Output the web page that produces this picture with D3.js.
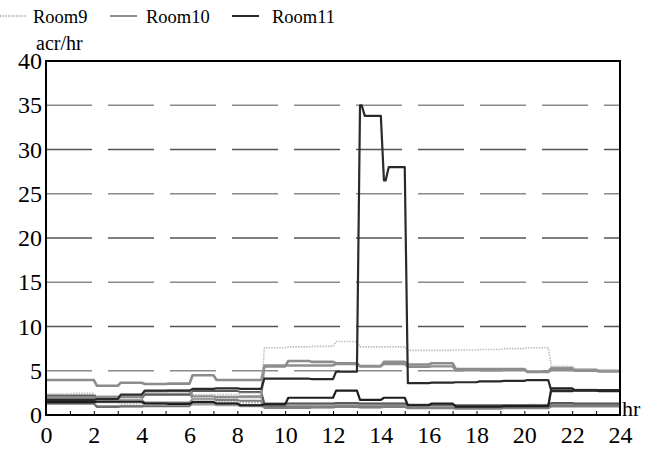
<!DOCTYPE html>
<html>
<head>
<meta charset="utf-8">
<script src="https://cdn.jsdelivr.net/npm/d3@7"></script>
<style>
  html, body { margin: 0; padding: 0; background: #fff; }
  svg { display: block; }
  text { font-family: "Liberation Serif", "Times New Roman", serif; fill: #000; }
</style>
</head>
<body>
<script>
// Step breakpoints (hours); each value holds from its breakpoint to the next one.
const times = [0,1,2,3,4,5,6,7,8,9,10,11,12,13,13.2,14,14.2,15,16,17,18,19,20,21,22,23];
const endHour = 24;

const room1  = [1.25,1.25,1.0,1.0,1.1,1.1,1.2,1.1,1.0,0.9,0.9,0.9,0.95,0.9,0.9,0.95,0.95,0.85,0.85,0.8,0.8,0.85,0.85,1.2,1.2,1.15];
const room2  = [1.35,1.35,0.9,0.95,1.0,1.0,1.5,1.3,1.1,1.0,1.0,1.0,1.05,1.0,1.0,1.1,1.1,0.9,0.95,0.8,0.8,0.85,0.8,1.1,1.1,1.1];
const room3  = [1.55,1.55,1.4,1.3,1.2,1.2,1.55,1.5,1.4,1.25,1.3,1.3,1.3,1.3,1.3,1.3,1.3,1.0,1.05,1.0,1.0,1.1,1.15,1.3,1.3,1.3];
const room4  = [1.7,1.7,1.75,1.7,1.4,1.4,1.8,1.7,1.6,0.8,0.8,0.85,0.9,0.85,0.85,0.9,0.9,0.75,0.75,0.7,0.7,0.75,0.75,0.95,0.95,0.95];
const room5  = [2.0,2.0,1.8,1.7,2.4,2.4,1.8,2.05,2.0,1.15,1.1,1.1,1.2,1.15,1.15,1.2,1.2,1.05,1.05,1.0,1.0,1.05,1.05,2.9,2.85,2.8];
const room6  = [2.2,2.2,2.05,2.0,2.3,2.3,2.7,2.7,2.6,1.3,1.3,1.3,1.35,1.3,1.3,1.3,1.3,1.15,1.15,1.1,1.1,1.1,1.1,1.35,1.3,1.3];
const room7  = [3.95,3.95,3.3,3.65,3.5,3.55,4.5,3.95,3.95,5.5,6.1,6.0,5.85,5.5,5.5,6.0,6.0,5.7,5.85,5.2,5.2,5.2,4.9,5.3,5.1,5.0];
const room8  = [1.45,1.45,1.5,1.5,1.3,1.25,1.45,1.3,1.1,1.2,1.95,1.95,2.75,1.7,1.7,1.95,1.95,1.1,1.3,0.95,0.95,1.0,1.0,3.0,2.75,2.7];
const room9  = [2.4,2.45,2.1,2.1,2.6,2.6,2.3,2.3,2.45,7.6,7.7,7.75,8.3,7.7,7.7,7.7,7.7,7.3,7.3,7.35,7.4,7.5,7.6,5.5,5.2,5.0];
const room10 = [1.9,1.9,2.0,2.05,2.7,2.75,2.1,2.0,2.1,5.6,5.6,5.6,5.75,5.55,5.55,5.75,5.75,5.45,5.5,5.05,5.05,5.1,4.85,5.1,5.0,4.9];
const room11 = [1.7,1.7,1.8,2.3,2.75,2.75,2.95,3.0,2.95,4.1,4.1,4.05,4.9,35.0,33.8,26.5,28.0,3.6,3.65,3.7,3.8,3.85,3.95,2.7,2.8,2.8];

const seriesNames = ["Room1","Room2","Room3","Room4","Room5","Room6","Room7","Room8","Room9","Room10","Room11"];
const seriesValues = [room1,room2,room3,room4,room5,room6,room7,room8,room9,room10,room11];
const seriesColors = ["#9a9a9a","#6e6e6e","#b5b5b5","#808080","#a0a0a0","#5a5a5a","#8c8c8c","#1e1e1e","#bdbdbd","#8e8e8e","#2a2a2a"];
const seriesWidths = [2.2,2.0,2.0,2.0,2.0,2.0,2.6,2.2,1.6,2.4,2.2];
const seriesDash   = [null,null,"2,1",null,null,null,null,null,"1.5,1.2",null,null];

const legendNames = ["Room9","Room10","Room11"];

const yTicks = [0,5,10,15,20,25,30,35,40];

const width = 654, height = 450;
const svg = d3.select("body").append("svg").attr("width", width).attr("height", height);

const x = d3.scaleLinear().domain([0, 24]).range([46, 620]);
const y = d3.scaleLinear().domain([0, 40]).range([415, 61]);

// dashed horizontal grid
svg.append("g").selectAll("line")
  .data(yTicks.filter(v => v > 0 && v < 40))
  .join("line")
  .attr("x1", x(0)).attr("x2", x(24))
  .attr("y1", d => y(d)).attr("y2", d => y(d))
  .attr("stroke", (d, i) => i % 2 ? "#555" : "#8a8a8a")
  .attr("stroke-width", 1.3)
  .attr("stroke-dasharray", "46,16");

// expand a step series into points with a short ramp at each change
const ramp = 0.13;
function stepPoints(vals) {
  const pts = [];
  vals.forEach((v, i) => {
    const t0 = times[i];
    const t1 = i + 1 < times.length ? times[i + 1] : endHour;
    pts.push([i === 0 ? t0 : t0 + ramp, v]);
    pts.push([t1, v]);
  });
  return pts;
}

const line = d3.line().x(d => x(d[0])).y(d => y(d[1]));

const lines = svg.append("g").attr("fill", "none").attr("stroke-linejoin", "round");
seriesValues.forEach((vals, i) => {
  lines.append("path")
    .attr("d", line(stepPoints(vals)))
    .attr("stroke", seriesColors[i])
    .attr("stroke-width", seriesWidths[i])
    .attr("stroke-dasharray", seriesDash[i]);
});

// axes frame
svg.append("rect")
  .attr("x", x(0)).attr("y", y(40))
  .attr("width", x(24) - x(0)).attr("height", y(0) - y(40))
  .attr("fill", "none").attr("stroke", "#000").attr("stroke-width", 2);

// x axis: labels plus small inward ticks at every hour
const xAxis = d3.axisBottom(x).tickValues(d3.range(0, 25)).tickSize(-4)
  .tickFormat(d => d % 2 === 0 ? d : "");
const gx = svg.append("g").attr("transform", `translate(0,${y(0)})`).call(xAxis);
gx.attr("font-family", null);
gx.select(".domain").remove();
gx.selectAll(".tick line").attr("stroke", "#000").attr("stroke-width", 1);
gx.selectAll(".tick text").attr("font-size", 24).attr("y", 11).attr("fill", "#000");

const yAxis = d3.axisLeft(y).tickValues(yTicks).tickSize(0).tickPadding(4);
const gy = svg.append("g").attr("transform", `translate(${x(0)},0)`).call(yAxis);
gy.attr("font-family", null);
gy.select(".domain").remove();
gy.selectAll(".tick text").attr("font-size", 24).attr("fill", "#000");

// unit labels
svg.append("text").attr("x", 36).attr("y", 50).attr("font-size", 20).text("acr/hr");
svg.append("text").attr("x", 622).attr("y", 416).attr("font-size", 22).text("hr");

// legend (last three rooms)
const legendSample = [0, 110, 232];
const legendText = [33, 146, 272];
const leg = svg.append("g");
legendNames.forEach((name, k) => {
  const idx = seriesNames.indexOf(name);
  leg.append("line")
    .attr("x1", legendSample[k]).attr("x2", legendSample[k] + 27)
    .attr("y1", 16).attr("y2", 16)
    .attr("stroke", seriesColors[idx]).attr("stroke-width", 2)
    .attr("stroke-dasharray", seriesDash[idx]);
  leg.append("text").attr("x", legendText[k]).attr("y", 23)
    .attr("font-size", 18.5).text(name);
});
</script>
</body>
</html>
